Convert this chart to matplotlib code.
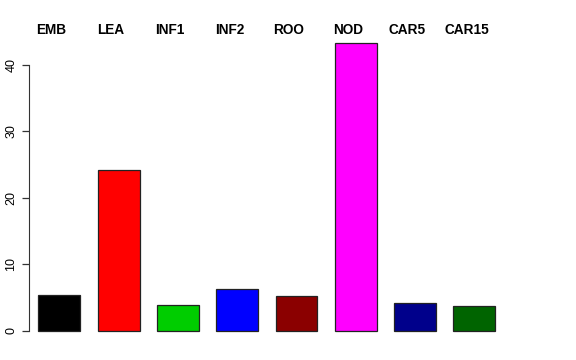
import matplotlib
matplotlib.use("Agg")
import matplotlib.pyplot as plt

categories = ["EMB", "LEA", "INF1", "INF2", "ROO", "NOD", "CAR5", "CAR15"]
values = [5.4, 24.2, 3.9, 6.35, 5.2, 43.3, 4.2, 3.7]
colors = ["#000000", "#FF0000", "#00CD00", "#0000FF", "#8B0000", "#FF00FF", "#00008B", "#006400"]
yticks = [0, 10, 20, 30, 40]

plt.rcParams['font.family'] = ['Liberation Sans', 'DejaVu Sans']

fig = plt.figure(figsize=(5.76, 3.6), dpi=100)
W, H = 576, 360
left_px, right_px = 29, 545
top_px, bot_px = 31.5, 342.5
ax = fig.add_axes([left_px / W, 1 - bot_px / H, (right_px - left_px) / W, (bot_px - top_px) / H])

x = list(range(len(categories)))
ax.bar(x, values, width=0.708, color=colors, edgecolor="#222222", linewidth=0.9)

spacing_px = 59.3
ax.set_xlim(-(59.3 - left_px) / spacing_px, (right_px - 59.3) / spacing_px)
ax.set_ylim(-1.73, 45.03)

for s in ["top", "right", "bottom"]:
    ax.spines[s].set_visible(False)
ax.spines["left"].set_bounds(0, 40)
ax.spines["left"].set_color("#333333")
ax.set_xticks([])
ax.set_yticks(yticks)
ax.set_yticklabels([str(t) for t in yticks], rotation=90, va="center", fontsize=9)
ax.tick_params(axis="y", length=5, width=0.9, pad=3.5, color="#333333")

for xi, lab in zip(x, categories):
    ax.text(xi - 0.13, 1.0 + (31.5 - 30) / 311, lab, transform=ax.get_xaxis_transform(),
            ha="center", va="center", fontsize=9.8, fontweight="bold")

fig.savefig("out.png", dpi=100)
